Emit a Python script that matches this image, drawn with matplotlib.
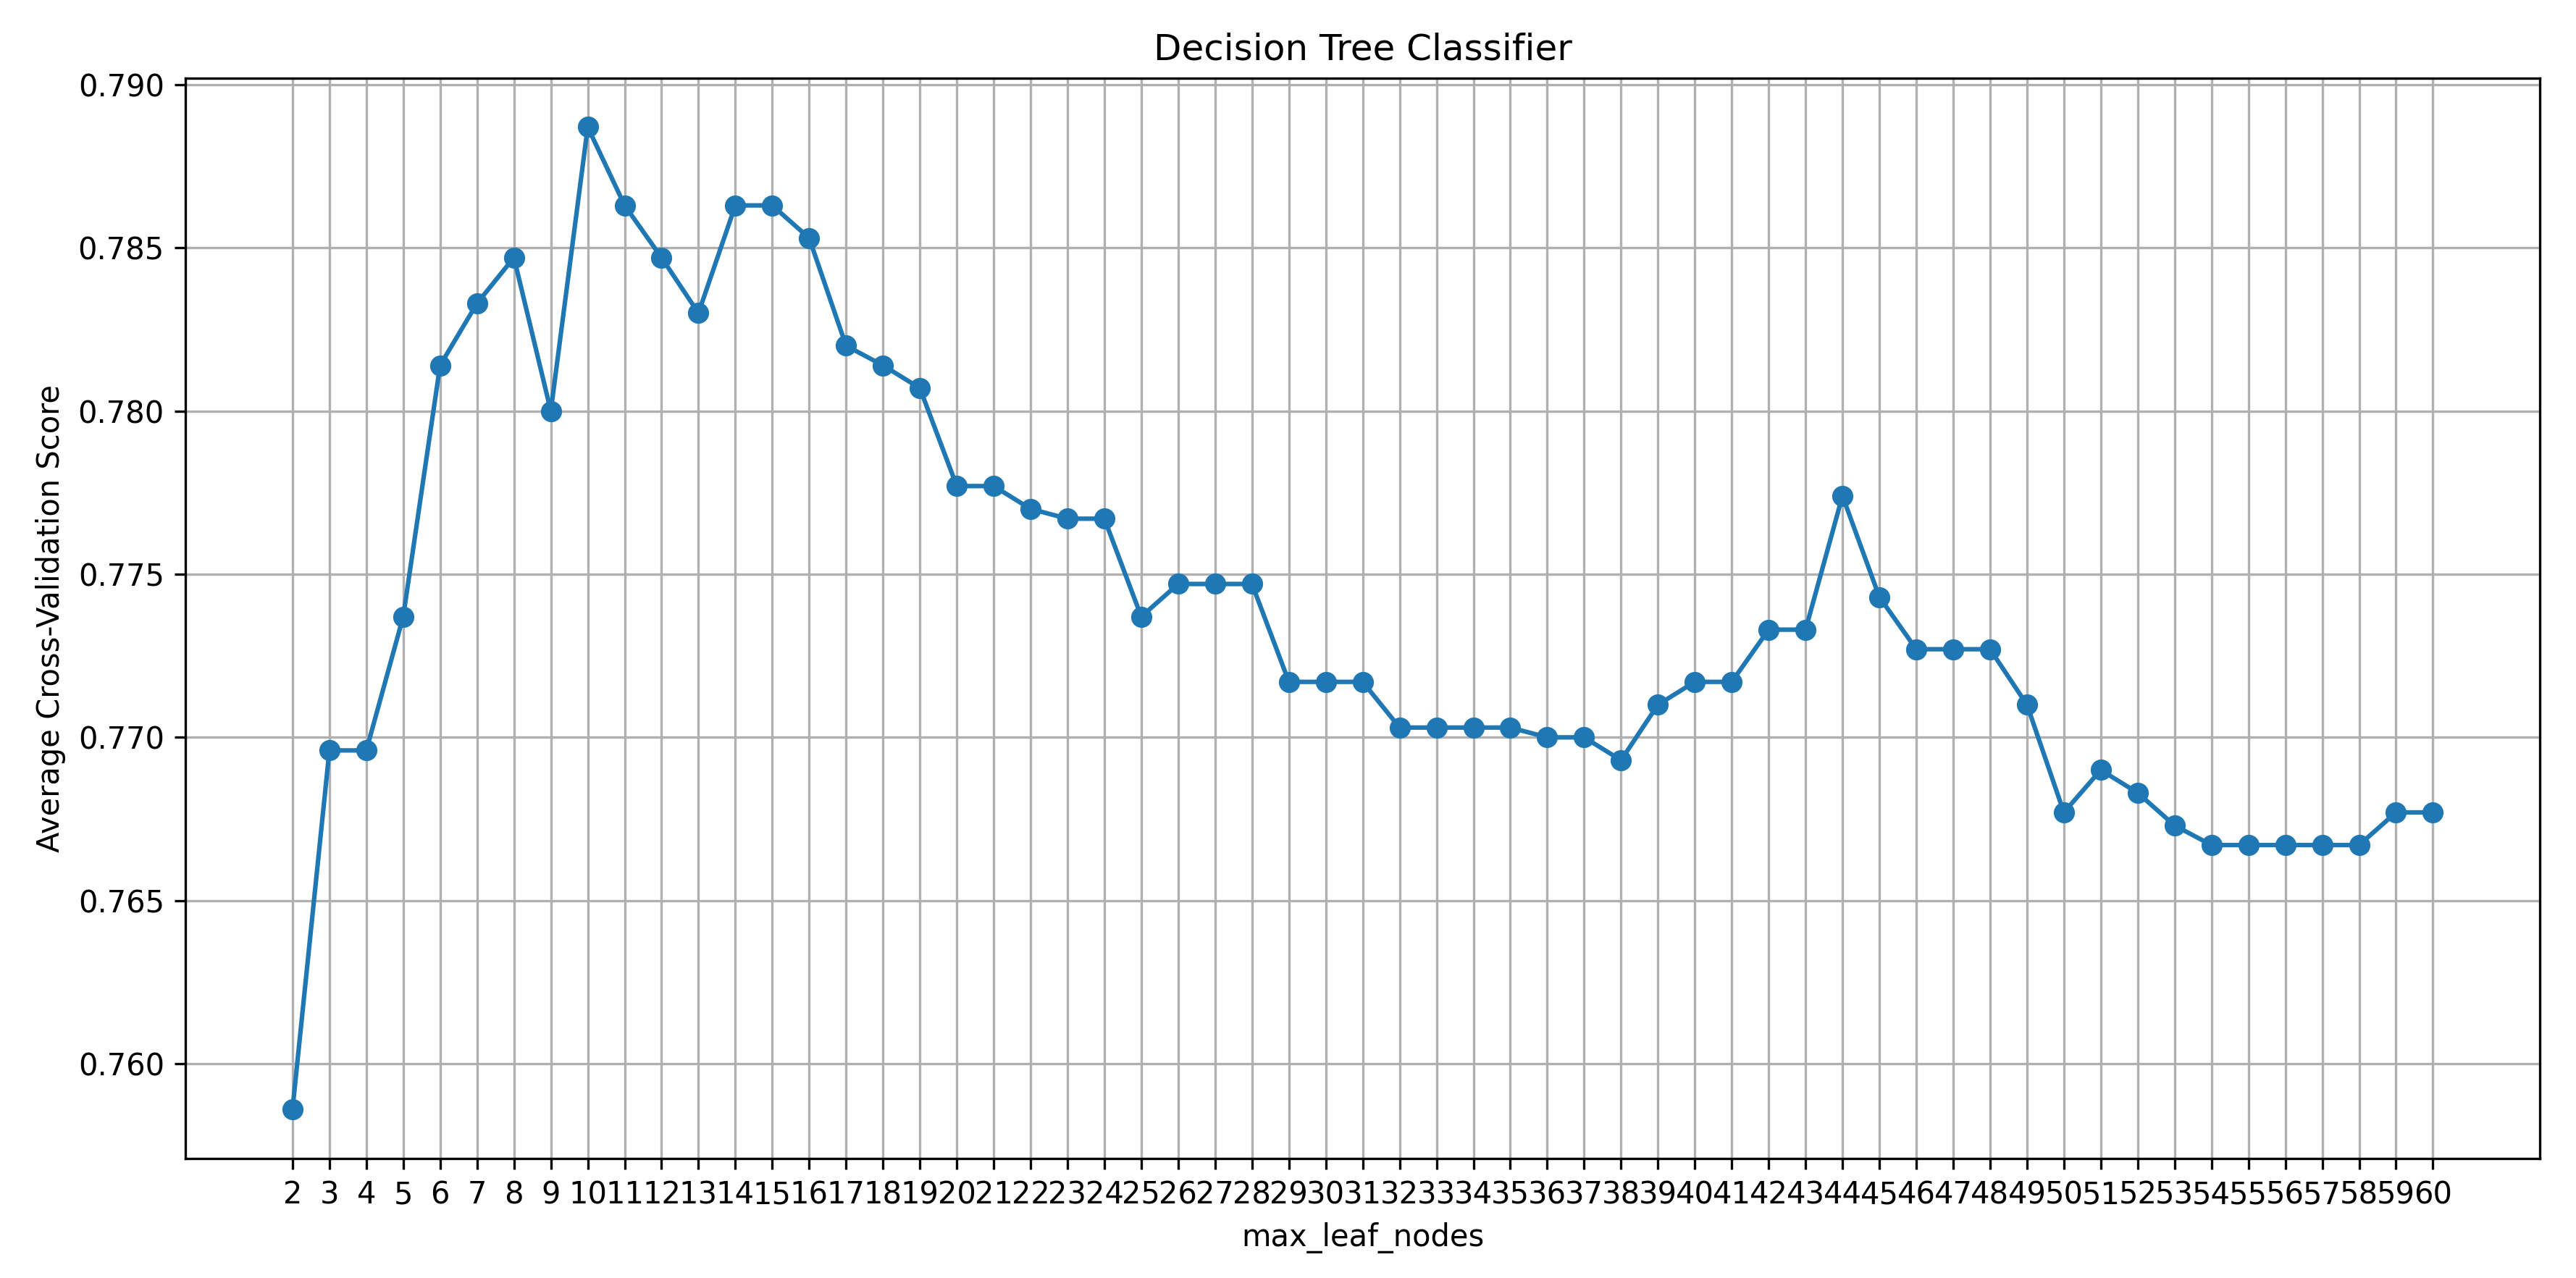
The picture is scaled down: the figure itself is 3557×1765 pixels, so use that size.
import matplotlib.pyplot as plt

max_leaf_nodes = list(range(2, 61))
cv_scores = [
    0.7586, 0.7696, 0.7696, 0.7737, 0.7814, 0.7833, 0.7847, 0.7800, 0.7887,
    0.7863, 0.7847, 0.7830, 0.7863, 0.7863, 0.7853, 0.7820, 0.7814, 0.7807,
    0.7777, 0.7777, 0.7770, 0.7767, 0.7767, 0.7737, 0.7747, 0.7747, 0.7747,
    0.7717, 0.7717, 0.7717, 0.7703, 0.7703, 0.7703, 0.7703, 0.7700, 0.7700,
    0.7693, 0.7710, 0.7717, 0.7717, 0.7733, 0.7733, 0.7774, 0.7743, 0.7727,
    0.7727, 0.7727, 0.7710, 0.7677, 0.7690, 0.7683, 0.7673, 0.7667, 0.7667,
    0.7667, 0.7667, 0.7667, 0.7677, 0.7677,
]

fig = plt.figure(figsize=(3557 / 300, 1765 / 300), dpi=300)
plt.plot(max_leaf_nodes, cv_scores, marker='o')
plt.title("Decision Tree Classifier")
plt.xlabel("max_leaf_nodes")
plt.ylabel("Average Cross-Validation Score")
plt.xticks(max_leaf_nodes)
plt.grid(True)
plt.subplots_adjust(left=0.072, right=0.986, top=0.939, bottom=0.0935)

plt.savefig("out.png", dpi=300)
